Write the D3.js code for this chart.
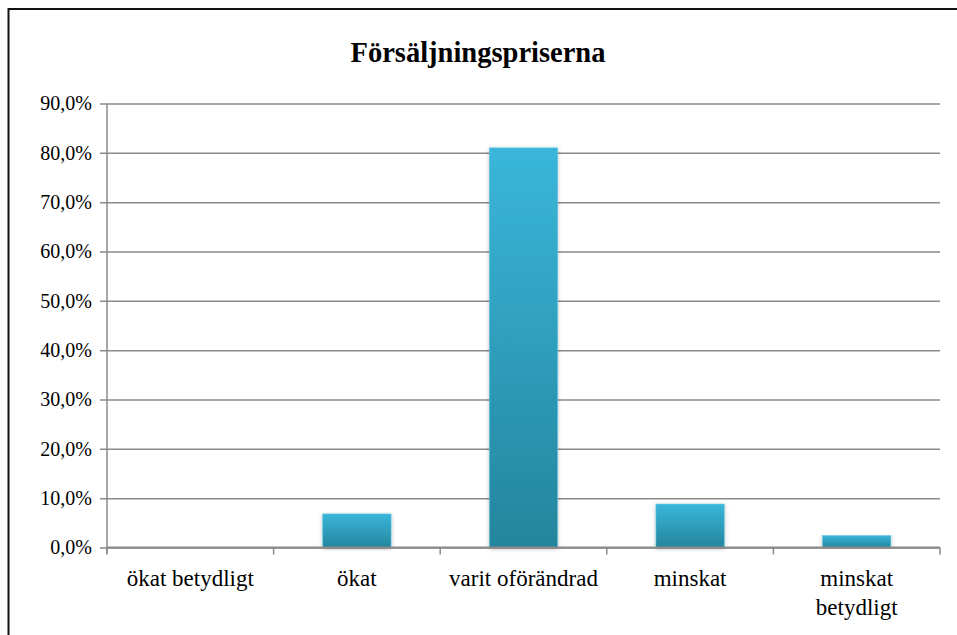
<!DOCTYPE html>
<html>
<head>
<meta charset="utf-8">
<script src="https://cdn.jsdelivr.net/npm/d3@7"></script>
<style>
  html, body { margin: 0; padding: 0; background: #fff; }
  svg { display: block; }
</style>
</head>
<body>
<svg id="chart"></svg>
<script>
"use strict";

const categories = ["ökat betydligt", "ökat", "varit oförändrad", "minskat", "minskat betydligt"];
const values = [0, 6.8, 81.0, 8.8, 2.4];
const yTicks = [0, 10, 20, 30, 40, 50, 60, 70, 80, 90];
const title = "Försäljningspriserna";

const width = 957, height = 635;
const plotLeft = 107, plotRight = 940, plotTop = 103.5, plotBottom = 547.5;
const FONT = "'Liberation Serif', 'Times New Roman', serif";

const svg = d3.select("#chart").attr("width", width).attr("height", height);

// gradient + shadow
const defs = svg.append("defs");
const grad = defs.append("linearGradient")
    .attr("id", "barGrad").attr("x1", 0).attr("y1", 0).attr("x2", 0).attr("y2", 1);
grad.append("stop").attr("offset", "0%").attr("stop-color", "#3ab6da");
grad.append("stop").attr("offset", "100%").attr("stop-color", "#24859d");
const shadow = defs.append("filter").attr("id", "shadow")
    .attr("x", "-20%").attr("y", "-5%").attr("width", "140%").attr("height", "115%");
shadow.append("feDropShadow")
    .attr("dx", 0).attr("dy", 1).attr("stdDeviation", 2)
    .attr("flood-color", "#000").attr("flood-opacity", 0.25);

// outer frame (only top and left visible in reference)
svg.append("rect")
    .attr("x", 8.5).attr("y", 9)
    .attr("width", width + 20).attr("height", height + 20)
    .attr("fill", "none").attr("stroke", "#111").attr("stroke-width", 2);

svg.append("text")
    .attr("x", 478).attr("y", 62)
    .attr("text-anchor", "middle")
    .attr("font-family", FONT).attr("font-weight", "bold").attr("font-size", 28.5)
    .attr("fill", "#000")
    .text(title);

const x = d3.scaleBand()
    .domain(categories)
    .range([plotLeft, plotRight])
    .paddingInner(0.59)
    .paddingOuter(0.295);

const y = d3.scaleLinear().domain([0, 90]).range([plotBottom, plotTop]);

// gridlines + y axis
const yAxis = d3.axisLeft(y)
    .tickValues(yTicks)
    .tickSize(-(plotRight - plotLeft))
    .tickPadding(15)
    .tickFormat(d => d.toFixed(1).replace(".", ",") + "%");

const gy = svg.append("g").attr("transform", `translate(${plotLeft},0)`).call(yAxis);
gy.select(".domain").remove();
gy.selectAll(".tick line")
    .attr("x1", -7)
    .attr("stroke", "#8a8a8a").attr("stroke-width", 1.5);
gy.selectAll(".tick text")
    .attr("font-family", FONT).attr("font-size", 20).attr("fill", "#000");

// vertical axis line
svg.append("line")
    .attr("x1", plotLeft).attr("x2", plotLeft).attr("y1", plotTop).attr("y2", plotBottom + 6)
    .attr("stroke", "#8a8a8a").attr("stroke-width", 1.5);

// bars
svg.append("g").selectAll("rect")
    .data(values)
    .join("rect")
    .attr("x", (d, i) => x(categories[i]))
    .attr("y", d => y(d))
    .attr("width", x.bandwidth())
    .attr("height", d => y(0) - y(d))
    .attr("fill", "url(#barGrad)")
    .attr("stroke", "#5cc6e4").attr("stroke-width", 0.6)
    .attr("filter", "url(#shadow)")
    .style("display", d => d > 0 ? null : "none");

// x axis
const step = x.step();
const boundaries = d3.range(categories.length + 1).map(i => plotLeft + i * step);
svg.append("line")
    .attr("x1", plotLeft).attr("x2", plotRight).attr("y1", plotBottom).attr("y2", plotBottom)
    .attr("stroke", "#8a8a8a").attr("stroke-width", 2);
svg.append("g").selectAll("line")
    .data(boundaries)
    .join("line")
    .attr("x1", d => d).attr("x2", d => d)
    .attr("y1", plotBottom).attr("y2", plotBottom + 7)
    .attr("stroke", "#8a8a8a").attr("stroke-width", 1.5);

// x labels (wrap long ones)
const labels = svg.append("g").selectAll("text")
    .data(categories)
    .join("text")
    .attr("x", d => x(d) + x.bandwidth() / 2)
    .attr("y", 586)
    .attr("text-anchor", "middle")
    .attr("font-family", FONT).attr("font-size", 23).attr("fill", "#000");
labels.each(function(d) {
    const lines = d === "minskat betydligt" ? ["minskat", "betydligt"] : [d];
    const t = d3.select(this);
    lines.forEach((ln, k) => {
        t.append("tspan").attr("x", t.attr("x")).attr("dy", k === 0 ? 0 : 29).text(ln);
    });
});
</script>
</body>
</html>
